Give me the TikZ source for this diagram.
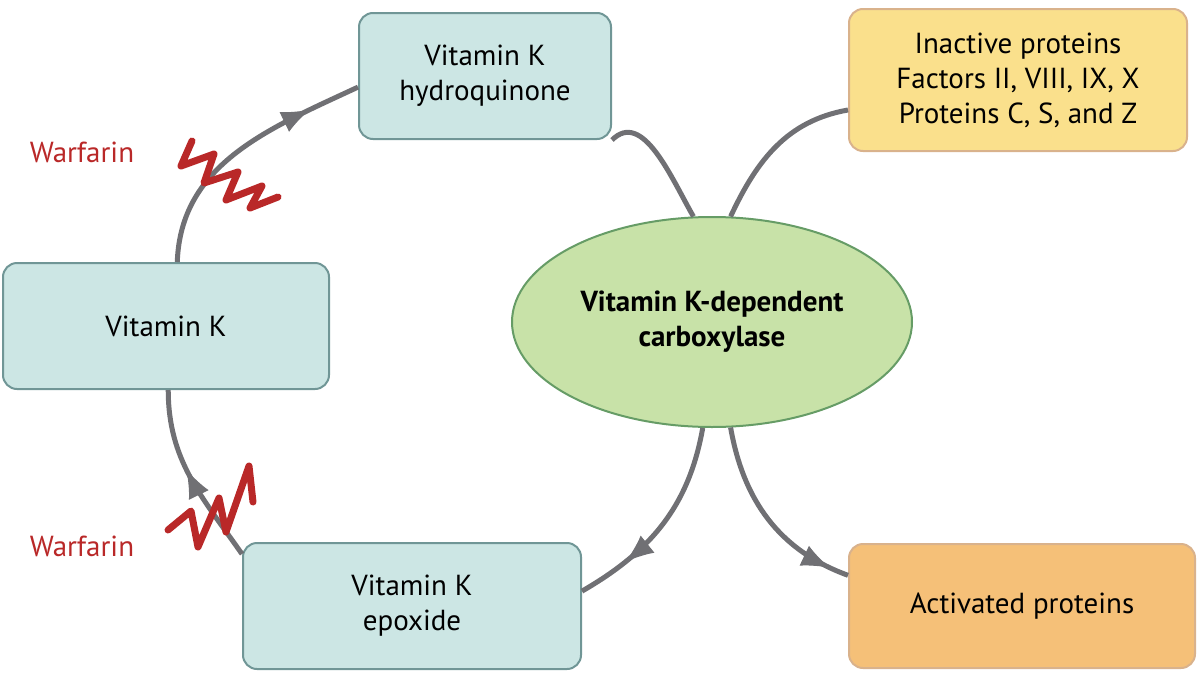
\documentclass[tikz,border=0pt]{standalone}
\usepackage{fontspec}
\setmainfont{PT Sans}
\usetikzlibrary{shapes.geometric,arrows.meta,decorations.markings}
\definecolor{boxblue}{RGB}{204,230,228}
\definecolor{boxedge}{RGB}{112,150,150}
\definecolor{boxyellow}{RGB}{250,224,140}
\definecolor{boxorange}{RGB}{245,192,120}
\definecolor{ellgreen}{RGB}{200,226,168}
\definecolor{linkgray}{RGB}{112,112,116}
\definecolor{warfred}{RGB}{185,40,40}
\tikzset{
  stepbox/.style={draw=boxedge,line width=2pt,rounded corners=14pt,fill=boxblue,align=center,font=\fontsize{29}{35}\selectfont},
  link/.style={draw=linkgray,line width=5pt},
  midarrow/.style={postaction={decorate},decoration={markings,mark=at position #1 with {\arrow[linkgray,line width=1pt]{Latex[length=28pt,width=22pt]}}}},
  blocker/.style={draw=warfred,line width=7pt,line join=round,line cap=round}
}
\begin{document}
\begin{tikzpicture}[x=1pt,y=1pt,yscale=-1,xscale=1]
\useasboundingbox (0,0) rectangle (1200,675);

%Boxes
\node[stepbox,minimum width=252pt,minimum height=126pt] (hydro) at (485,76) {Vitamin K\\hydroquinone};
\node[stepbox,minimum width=326pt,minimum height=126pt] (vitk) at (166,326) {Vitamin K};
\node[stepbox,minimum width=338pt,minimum height=126pt] (epox) at (412,606) {Vitamin K\\epoxide};
\node[stepbox,fill=boxyellow,draw=brown!60,minimum width=338pt,minimum height=142pt] (inact) at (1018,80) {Inactive proteins\\Factors II, VIII, IX, X\\Proteins C, S, and Z};
\node[stepbox,fill=boxorange,draw=brown!60,minimum width=346pt,minimum height=124pt] (activ) at (1022,606) {Activated proteins};
%Ellipse
\node[ellipse,draw=green!35!black!60,line width=2pt,fill=ellgreen,minimum width=400pt,minimum height=210pt,align=center,font=\fontsize{29}{35}\selectfont\bfseries] (carbox) at (712,322) {Vitamin K-dependent\\carboxylase};

%Cycle
\draw[link,midarrow=0.55] (epox.163) to[out=-125,in=90] (vitk.-88);
\draw[link,midarrow=0.8] (vitk.80) to[out=-88,in=155] (hydro.185);
\draw[link] (hydro.south east) to[out=-45,in=-120] (carbox.100);
\draw[link] (inact.190) to[out=170,in=-65] (carbox.80);
\draw[link,midarrow=0.75] (carbox.-95) to[out=100,in=-30] (epox.5);
\draw[link,midarrow=0.9] (carbox.-80) to[out=80,in=-160] (activ.170);

%Warfarin
\node[text=warfred,font=\fontsize{29}{35}\selectfont] (warf1) at (82,152) {Warfarin};
\node[text=warfred,font=\fontsize{29}{35}\selectfont] (warf2) at (82,546) {Warfarin};
\draw[blocker] (192,141) -- (181,166) -- (214,154) -- (204,183) -- (238,172) -- (226,200) -- (262,186) -- (250,208) -- (278,197);
\draw[blocker] (168,530) -- (191,511) -- (198,547) -- (219,498) -- (226,532) -- (249,466) -- (253,502);

\end{tikzpicture}
\end{document}
